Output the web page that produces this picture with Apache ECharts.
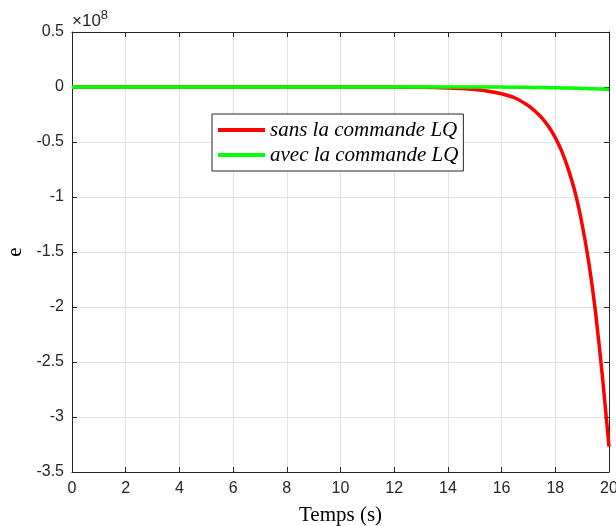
<!DOCTYPE html>
<html>
<head>
<meta charset="utf-8">
<script src="https://cdn.jsdelivr.net/npm/echarts@6/dist/echarts.min.js"></script>
<style>html,body{margin:0;padding:0;background:#fff;}#c{width:616px;height:526px;}</style>
</head>
<body>
<div id="c"></div>
<script>
// time (s)
var time = [0,1,2,3,4,5,6,7,8,9,10,11,12,13,14,14.5,15,15.5,16,16.5,17,17.25,17.5,17.75,18,18.25,18.5,18.75,19,19.25,19.5,19.75,20];
// e (x1e8) without LQ control
var sansLQ = [0,0,0,0,0,0,0,0,0,0,0,0,-0.001,-0.003,-0.008,-0.014,-0.023,-0.038,-0.062,-0.10,-0.17,-0.22,-0.28,-0.36,-0.46,-0.59,-0.76,-0.97,-1.25,-1.60,-2.05,-2.62,-3.27];
// e (x1e8) with LQ control
var avecLQ = [0,0,0,0,0,0,0,0,0,0,0,0,0,0,0,0,0,-0.0005,-0.001,-0.002,-0.003,-0.004,-0.005,-0.006,-0.007,-0.008,-0.009,-0.011,-0.013,-0.015,-0.017,-0.019,-0.022];
var xTicks = [0,2,4,6,8,10,12,14,16,18,20];
var yTicks = [0.5,0,-0.5,-1,-1.5,-2,-2.5,-3,-3.5];
var names = ['sans la commande LQ','avec la commande LQ'];

function pairs(xs, ys){ return xs.map(function(x,i){return [x, ys[i]];}); }

var axisColor = '#262626';
var gridColor = '#e3e3e3';
var labelFont = {fontFamily:'Liberation Sans, Arial, sans-serif', fontSize:16, color:axisColor};

var chart = echarts.init(document.getElementById('c'), null, {renderer:'canvas'});
chart.setOption({
  animation:false,
  backgroundColor:'#fff',
  grid:{left:72, right:7, top:32, bottom:54, containLabel:false, outerBoundsMode:'none'},
  xAxis:[{
    type:'value', min:xTicks[0], max:xTicks[xTicks.length-1], interval:2,
    name:'Temps (s)', nameLocation:'middle', nameGap:33,
    nameTextStyle:{fontFamily:'Liberation Serif, serif', fontSize:21, color:'#000'},
    axisLine:{show:true, onZero:false, lineStyle:{color:axisColor, width:1}},
    axisTick:{show:true, inside:true, length:5, lineStyle:{color:axisColor}},
    axisLabel:Object.assign({margin:9}, labelFont),
    splitLine:{show:true, lineStyle:{color:gridColor, width:1}}
  },{
    type:'value', position:'top', min:xTicks[0], max:xTicks[xTicks.length-1], interval:2,
    axisLine:{show:true, onZero:false, lineStyle:{color:axisColor, width:1}},
    axisTick:{show:true, inside:true, length:5, lineStyle:{color:axisColor}},
    axisLabel:{show:false}, splitLine:{show:false}
  }],
  yAxis:[{
    type:'value', min:yTicks[yTicks.length-1], max:yTicks[0], interval:0.5,
    name:'e', nameLocation:'middle', nameGap:43, nameRotate:90,
    nameTextStyle:{fontFamily:'Liberation Serif, serif', fontSize:21, color:'#000'},
    axisLine:{show:true, onZero:false, lineStyle:{color:axisColor, width:1}},
    axisTick:{show:true, inside:true, length:5, lineStyle:{color:axisColor}},
    axisLabel:Object.assign({margin:8, formatter:function(v){return String(v);}}, labelFont),
    splitLine:{show:true, lineStyle:{color:gridColor, width:1}}
  },{
    type:'value', position:'right', min:yTicks[yTicks.length-1], max:yTicks[0], interval:0.5,
    axisLine:{show:true, onZero:false, lineStyle:{color:axisColor, width:1}},
    axisTick:{show:true, inside:true, length:5, lineStyle:{color:axisColor}},
    axisLabel:{show:false}, splitLine:{show:false}
  }],
  legend:{
    orient:'vertical', left:212, top:114,
    data:names, icon:'rect', itemWidth:47, itemHeight:4, itemGap:3,
    padding:[5,5,5,6],
    backgroundColor:'#fff', borderColor:axisColor, borderWidth:1,
    textStyle:{fontFamily:'Liberation Serif, serif', fontStyle:'italic', fontSize:21, lineHeight:22, color:'#000'}
  },
  graphic:[{
    type:'text', left:72, top:9,
    style:{
      text:'{a|×10}{b|8}',
      rich:{
        a:{fontFamily:'Liberation Sans, Arial, sans-serif', fontSize:17, fill:axisColor, verticalAlign:'bottom'},
        b:{fontFamily:'Liberation Sans, Arial, sans-serif', fontSize:13, fill:axisColor, verticalAlign:'top', padding:[0,0,8,0]}
      }
    }
  }],
  series:[{
    name:names[0], type:'line', data:pairs(time, sansLQ), showSymbol:false, smooth:0.2,
    lineStyle:{color:'#ff0000', width:3.5}, itemStyle:{color:'#ff0000'}, z:2
  },{
    name:names[1], type:'line', data:pairs(time, avecLQ), showSymbol:false, smooth:0.2,
    lineStyle:{color:'#00ff00', width:3.5}, itemStyle:{color:'#00ff00'}, z:3
  }]
});
</script>
</body>
</html>
